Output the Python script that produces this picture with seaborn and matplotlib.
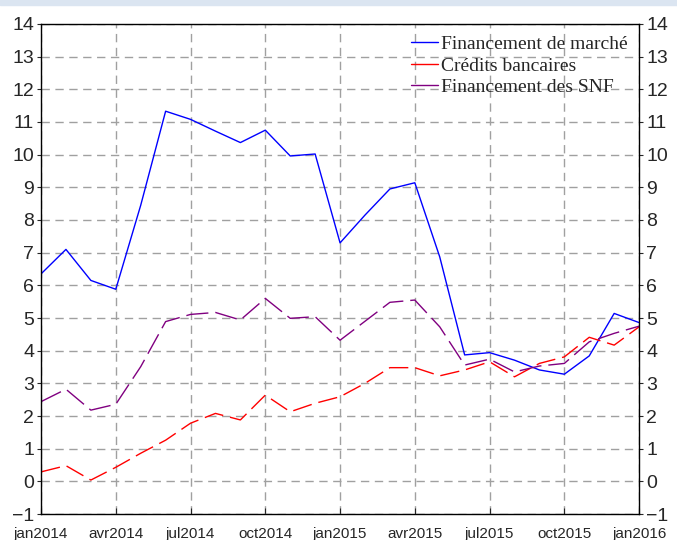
import numpy as np
import pandas as pd
import matplotlib
matplotlib.use("Agg")
import matplotlib.pyplot as plt
import seaborn as sns
from matplotlib.lines import Line2D
from matplotlib.patches import Rectangle

sns.set_style("white")
plt.rcParams['font.family'] = ['Liberation Sans', 'DejaVu Sans']

# monthly points jan2014 .. jan2016
month_idx = list(range(25))
tick_pos = [0, 3, 6, 9, 12, 15, 18, 21, 24]
tick_labels = ["jan2014", "avr2014", "jul2014", "oct2014", "jan2015",
               "avr2015", "jul2015", "oct2015", "jan2016"]

marche = [6.35, 7.10, 6.15, 5.88, 8.45, 11.33, 11.08, 10.72, 10.37, 10.75,
          9.96, 10.02, 7.30, 8.15, 8.95, 9.14, 6.87, 3.87, 3.94, 3.71,
          3.41, 3.28, 3.84, 5.14, 4.86]
credits = [0.29, 0.48, 0.04, 0.43, 0.86, 1.26, 1.78, 2.08, 1.88, 2.64,
           2.13, 2.39, 2.59, 3.00, 3.48, 3.48, 3.23, 3.41, 3.66, 3.20,
           3.61, 3.81, 4.41, 4.17, 4.73]
snf = [2.44, 2.82, 2.18, 2.36, 3.51, 4.89, 5.11, 5.17, 4.94, 5.60,
       4.99, 5.04, 4.32, 4.90, 5.48, 5.55, 4.73, 3.56, 3.74, 3.35,
       3.53, 3.61, 4.27, 4.53, 4.75]

df = pd.DataFrame({"mois": month_idx, "marche": marche,
                   "credits": credits, "snf": snf})

fig = plt.figure(figsize=(6.77, 5.4), dpi=100)
fig.patches.append(Rectangle((0, 0.991), 1, 0.009, transform=fig.transFigure,
                             color="#dbe5f1", zorder=0))
ax = fig.add_axes([0.0606, 0.0481, 0.8834, 0.9075])

sns.lineplot(data=df, x="mois", y="marche", ax=ax, color="#0000ff", lw=1)
sns.lineplot(data=df, x="mois", y="credits", ax=ax, color="#ff0000", lw=1)
sns.lineplot(data=df, x="mois", y="snf", ax=ax, color="#800080", lw=1)
ax.lines[1].set_dashes((14, 5))
ax.lines[2].set_dashes((16, 5))

ax.set_xlim(0, 24)
ax.set_ylim(-1, 14)
ax.set_xticks(tick_pos)
ax.set_xticklabels(tick_labels, fontsize=11)
ax.set_yticks(range(-1, 15))
ax.tick_params(axis="y", labelsize=14, length=3, direction="out",
               left=True, right=True, labelleft=True, labelright=True, pad=2)
ax.tick_params(axis="x", length=4, direction="in", bottom=True, pad=9)
ax.set_xlabel("")
ax.set_ylabel("")
ax.grid(True, color="#a0a0a0", linestyle=(0, (6, 4)), lw=1)
for s in ax.spines.values():
    s.set_color("black")
    s.set_linewidth(1)

handles = [Line2D([], [], color="#0000ff", lw=1),
           Line2D([], [], color="#ff0000", lw=1),
           Line2D([], [], color="#800080", lw=1)]
ax.legend(handles, ["Financement de marché", "Crédits bancaires",
                    "Financement des SNF"],
          loc="upper right", frameon=False, handlelength=1.4,
          handletextpad=0.15, labelspacing=0.2, borderaxespad=0.2,
          prop={"family": "Liberation Serif", "size": 14})

fig.savefig("out.png", dpi=100)
